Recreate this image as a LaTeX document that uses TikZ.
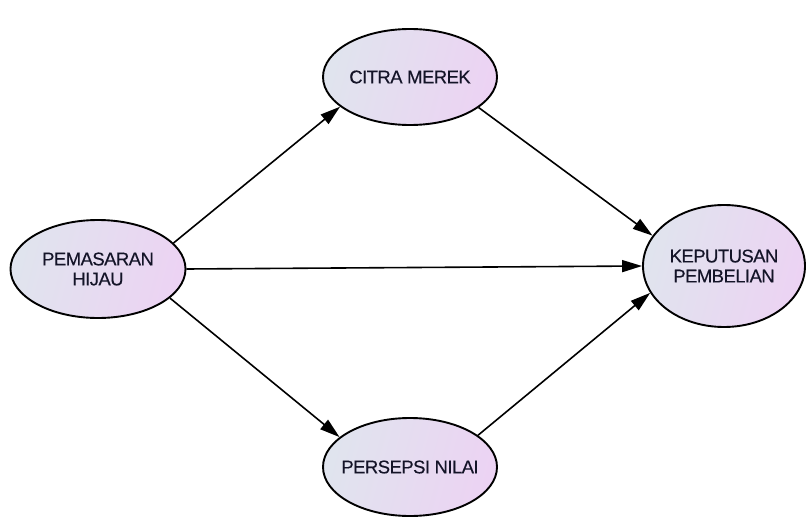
\documentclass[tikz,border=0pt]{standalone}
\usepackage{fontspec}
\setmainfont{Liberation Sans}
\newfontfamily\labfont[LetterSpace=-3,FakeBold=0.3]{Liberation Sans}
\usetikzlibrary{shapes.geometric,arrows.meta}
\definecolor{fillA}{HTML}{E0E4EE}
\definecolor{fillB}{HTML}{ECD3F3}
\definecolor{txt}{HTML}{141428}
\begin{document}
\begin{tikzpicture}[x=1pt,y=-1pt,
 var/.style={ellipse,draw=black,line width=1.9pt,left color=fillA,right color=fillB,shading angle=75,inner xsep=-30pt,inner ysep=-20pt,font=\labfont\fontsize{18.5}{20}\selectfont,text=txt,align=center},
 link/.style={line width=1.6pt,-{Triangle[length=20pt,width=12pt]}}]
\useasboundingbox (0,0) rectangle (806,524);
\node[var,minimum width=174pt,minimum height=96pt] (cm) at (410,77) {CITRA MEREK};
\node[var,minimum width=175pt,minimum height=98pt] (ph) at (98,269) {PEMASARAN\\HIJAU};
\node[var,minimum width=162pt,minimum height=122pt] (kp) at (724,266) {KEPUTUSAN\\PEMBELIAN};
\node[var,minimum width=174pt,minimum height=98pt] (pn) at (410,467) {PERSEPSI NILAI};
\draw[link] (ph.19) -- (cm.203);
\draw[link] (ph.0) -- (kp.180);
\draw[link] (ph.-22) -- (pn.157);
\draw[link] (cm.-24) -- (kp.157);
\draw[link] (pn.25) -- (kp.200);
\end{tikzpicture}
\end{document}
